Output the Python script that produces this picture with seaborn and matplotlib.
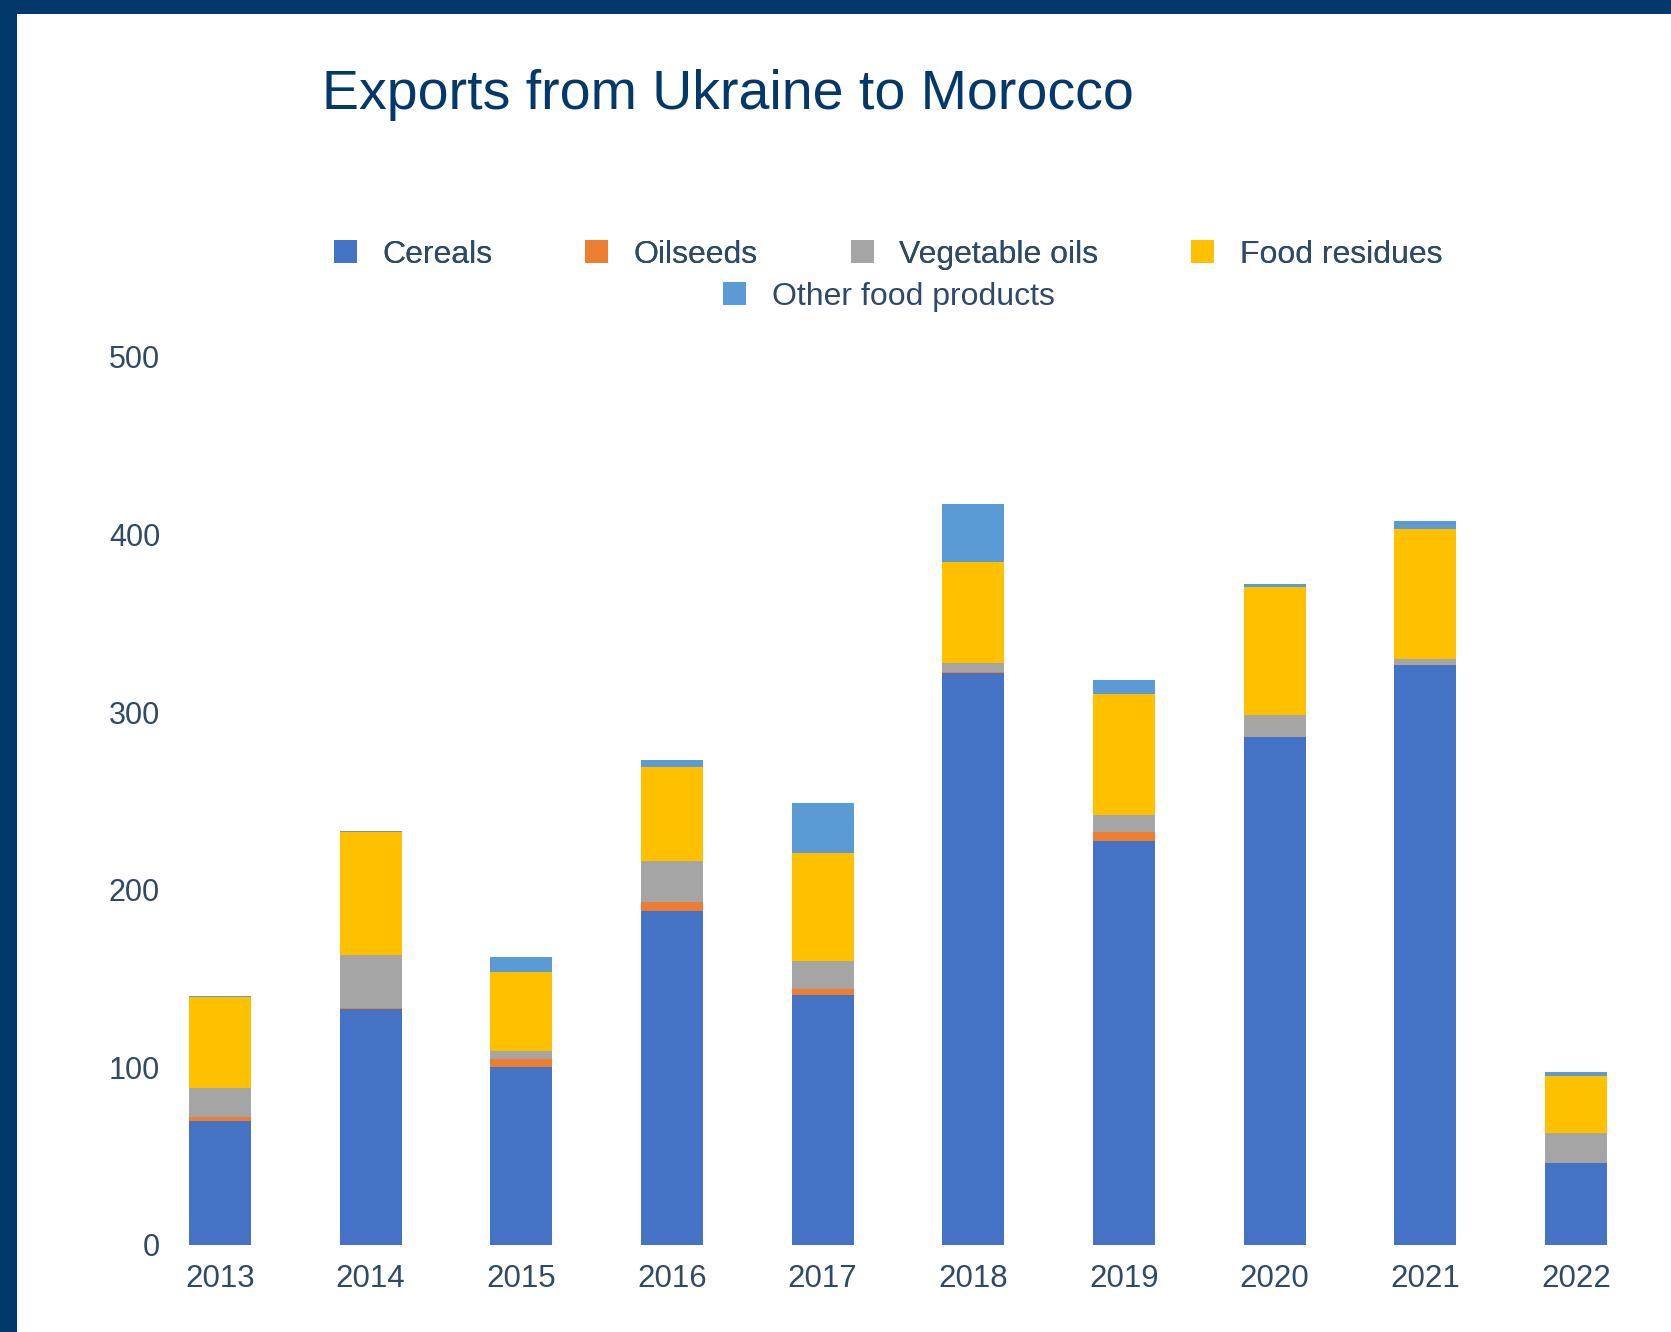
import matplotlib
matplotlib.use("Agg")
import matplotlib.pyplot as plt
from matplotlib.patches import Patch, Rectangle
import numpy as np
import pandas as pd
import seaborn as sns

# Export values by product group (stacked per year)
years = ["2013", "2014", "2015", "2016", "2017", "2018", "2019", "2020", "2021", "2022"]
cereals = [70, 133, 100, 188, 141, 322, 227.5, 286, 326.5, 46]
oilseeds = [2, 0.3, 5, 5, 3, 0.5, 5, 0.3, 0.3, 0.2]
vegetable_oils = [16.5, 30, 4, 23, 16, 5, 9.5, 12, 3, 17]
food_residues = [51, 69, 44.5, 53, 60.5, 57, 68, 72, 73.5, 32]
other_food = [0.5, 1, 8.5, 4, 28.5, 33, 8, 1.8, 4.3, 2]

series_names = ["Cereals", "Oilseeds", "Vegetable oils", "Food residues", "Other food products"]
series_colors = ["#4472C4", "#ED7D31", "#A5A5A5", "#FFC000", "#5B9BD5"]
y_ticks = [0, 100, 200, 300, 400, 500]

df = pd.DataFrame({
    "Year": years,
    "Cereals": cereals,
    "Oilseeds": oilseeds,
    "Vegetable oils": vegetable_oils,
    "Food residues": food_residues,
    "Other food products": other_food,
})

sns.set_theme(style="white")
plt.rcParams["font.family"] = ["Liberation Sans", "DejaVu Sans"]

W, H = 1671, 1332
fig = plt.figure(figsize=(W / 100, H / 100), dpi=100)
fig.patch.set_facecolor("white")

navy = "#02386A"
text_col = "#2E4A66"

# Frame bands along the top and left edges
fig.patches.append(Rectangle((0, 1 - 14 / H), 1, 14 / H, transform=fig.transFigure,
                             facecolor=navy, edgecolor="none", zorder=0))
fig.patches.append(Rectangle((0, 0), 17 / W, 1, transform=fig.transFigure,
                             facecolor=navy, edgecolor="none", zorder=0))

ax_left, ax_right = 170, 1640
ax_bottom, ax_top = 1245, 357
ax = fig.add_axes([ax_left / W, 1 - ax_bottom / H, (ax_right - ax_left) / W, (ax_bottom - ax_top) / H])
ax.set_facecolor("white")

bottom = np.zeros(len(years))
for name, col in zip(series_names, series_colors):
    sns.barplot(data=df, x="Year", y=name, color=col, saturation=1, width=0.41,
                bottom=bottom, errorbar=None, ax=ax, linewidth=0)
    bottom = bottom + df[name].to_numpy()

# Category spacing of ~150.7 px with first bar centred at x=220 px
step = (1576 - 220) / 9
ax.set_xlim((ax_left - 220) / step, 9 + (ax_right - 1576) / step)
ax.set_ylim(0, 500)
ax.set_yticks(y_ticks)
ax.set_yticklabels([str(v) for v in y_ticks])
ax.set_xlabel("")
ax.set_ylabel("")
sns.despine(ax=ax, left=True, bottom=True)
ax.grid(False)
ax.tick_params(axis="y", length=0, pad=7.2, labelsize=22, labelcolor=text_col)
ax.tick_params(axis="x", length=0, pad=14, labelsize=22.5, labelcolor=text_col)

# Title
fig.text(322 / W, 1 - 95 / H, "Exports from Ukraine to Morocco", fontsize=40,
         color=navy, ha="left", va="center")

# Legend: four entries on the first row, one centred below
handles = [Patch(facecolor=c, edgecolor="none") for c in series_colors]
leg1 = fig.legend(handles[:4], series_names[:4], ncol=4, frameon=False,
                  loc="center left", bbox_to_anchor=(334 / W, 1 - 255 / H),
                  fontsize=23, handlelength=0.72, handleheight=0.72,
                  handletextpad=0.8, columnspacing=2.9, borderpad=0, borderaxespad=0)
for t in leg1.get_texts():
    t.set_color(text_col)
leg2 = fig.legend(handles[4:], series_names[4:], ncol=1, frameon=False,
                  loc="center left", bbox_to_anchor=(723 / W, 1 - 297 / H),
                  fontsize=23, handlelength=0.72, handleheight=0.72,
                  handletextpad=0.8, borderpad=0, borderaxespad=0)
for t in leg2.get_texts():
    t.set_color(text_col)
fig.add_artist(leg1)

fig.savefig("out.png", dpi=100, facecolor="white")
